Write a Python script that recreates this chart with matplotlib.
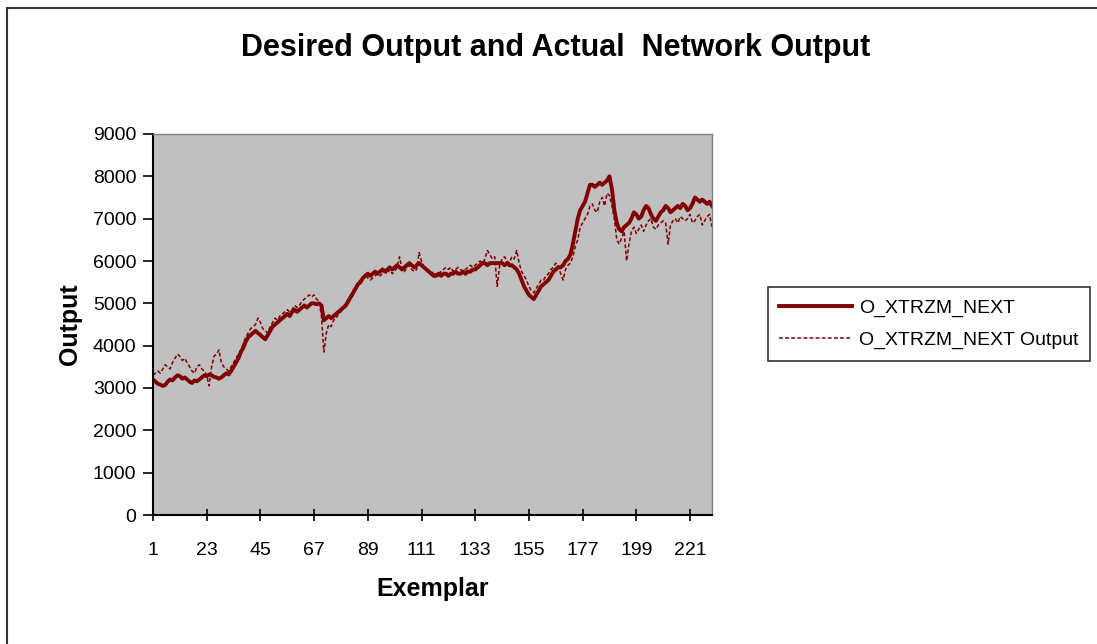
import numpy as np
import matplotlib.pyplot as plt
from matplotlib.patches import Rectangle

plt.rcParams['font.family'] = ['Liberation Sans', 'DejaVu Sans']

# desired output (O_XTRZM_NEXT), exemplars 1..230
desired = [
    3200, 3150, 3100, 3080, 3050, 3070, 3150, 3200, 3180, 3250,
    3300, 3280, 3220, 3250, 3200, 3150, 3120, 3180, 3160, 3200,
    3250, 3300, 3280, 3320, 3300, 3260, 3250, 3220, 3250, 3300,
    3350, 3320, 3400, 3500, 3600, 3700, 3850, 3950, 4100, 4200,
    4250, 4300, 4350, 4300, 4250, 4200, 4150, 4250, 4350, 4450,
    4500, 4550, 4600, 4650, 4700, 4750, 4700, 4800, 4850, 4800,
    4850, 4900, 4950, 4900, 4950, 5000, 5000, 4980, 5000, 4950,
    4600, 4650, 4700, 4650, 4700, 4750, 4800, 4850, 4900, 4950,
    5050, 5150, 5250, 5350, 5450, 5500, 5600, 5650, 5700, 5650,
    5700, 5750, 5700, 5750, 5800, 5750, 5800, 5850, 5800, 5850,
    5900, 5850, 5800, 5850, 5900, 5950, 5900, 5850, 5900, 5950,
    5900, 5850, 5800, 5750, 5700, 5650, 5650, 5700, 5650, 5700,
    5700, 5650, 5700, 5700, 5750, 5700, 5700, 5750, 5700, 5750,
    5750, 5800, 5800, 5850, 5900, 5950, 5950, 5900, 5950, 5950,
    5950, 5950, 5950, 5950, 5900, 5950, 5900, 5900, 5850, 5800,
    5700, 5550, 5400, 5300, 5200, 5150, 5100, 5200, 5300, 5400,
    5450, 5500, 5550, 5650, 5750, 5800, 5850, 5850, 5900, 6000,
    6050, 6150, 6400, 6700, 7000, 7200, 7300, 7400, 7600, 7800,
    7800, 7750, 7800, 7850, 7800, 7850, 7900, 8000, 7700, 7200,
    6900, 6750, 6700, 6800, 6850, 6900, 7000, 7150, 7100, 7000,
    7050, 7200, 7300, 7250, 7100, 7000, 6950, 7050, 7150, 7200,
    7300, 7250, 7150, 7200, 7250, 7300, 7250, 7350, 7300, 7200,
    7250, 7350, 7500, 7450, 7400, 7450, 7400, 7350, 7400, 7300,
]

# network output (O_XTRZM_NEXT Output)
network = [
    3300, 3350, 3400, 3350, 3450, 3550, 3500, 3450, 3600, 3700,
    3800, 3750, 3650, 3700, 3600, 3500, 3400, 3350, 3500, 3550,
    3450, 3400, 3300, 3050, 3500, 3750, 3800, 3900, 3600, 3500,
    3450, 3400, 3500, 3600, 3700, 3800, 3900, 4050, 4200, 4300,
    4400, 4450, 4500, 4650, 4550, 4400, 4350, 4300, 4450, 4550,
    4650, 4600, 4700, 4750, 4800, 4850, 4800, 4850, 4950, 4900,
    4950, 5050, 5100, 5150, 5200, 5150, 5200, 5100, 5050, 4700,
    3850, 4300, 4500, 4450, 4600, 4650, 4750, 4800, 4900, 5000,
    5100, 5200, 5300, 5400, 5500, 5550, 5600, 5700, 5600, 5550,
    5600, 5650, 5700, 5650, 5700, 5750, 5700, 5800, 5700, 5750,
    5850, 6100, 5800, 5750, 5850, 5900, 5800, 5750, 5800, 6200,
    6000, 5850, 5800, 5750, 5700, 5750, 5650, 5700, 5750, 5800,
    5850, 5800, 5850, 5750, 5800, 5850, 5800, 5750, 5800, 5850,
    5900, 5850, 5900, 5950, 6000, 5950, 6050, 6250, 6150, 6050,
    6100, 5400, 5900, 6050, 6100, 6000, 5950, 6100, 6050, 6250,
    5950, 5750, 5650, 5550, 5400, 5300, 5250, 5350, 5450, 5550,
    5550, 5650, 5700, 5800, 5850, 5950, 5900, 5700, 5550, 5800,
    5900, 5950, 6100, 6350, 6500, 6800, 6900, 7000, 7100, 7300,
    7350, 7200, 7150, 7400, 7500, 7300, 7600, 7550, 7300, 7000,
    6500, 6400, 6550, 6700, 6000, 6400, 6700, 6800, 6650, 6750,
    6850, 6700, 6850, 6950, 7000, 6800, 6750, 6850, 6900, 6950,
    6900, 6400, 6850, 6950, 7000, 6900, 7050, 7000, 6950, 7000,
    7100, 6900, 6950, 7050, 7100, 6850, 6950, 7050, 7100, 6800,
]

exemplar = np.arange(1, len(desired) + 1)
xtick_labels = [1, 23, 45, 67, 89, 111, 133, 155, 177, 199, 221]
ytick_values = [0, 1000, 2000, 3000, 4000, 5000, 6000, 7000, 8000, 9000]

fig = plt.figure(figsize=(10.97, 6.44), dpi=100)
# outer chart border
fig.patches.append(Rectangle((7 / 1097, -0.05), 1.2, 1.05 - 8 / 644,
                             transform=fig.transFigure, fill=False,
                             edgecolor='#333333', linewidth=1.5))

ax = fig.add_axes([153 / 1097, 1 - 515 / 644, (712 - 153) / 1097, (515 - 134) / 644])
ax.set_facecolor('#C0C0C0')

dark_red = '#800000'
ax.plot(exemplar, desired, color=dark_red, linewidth=2.8, label='O_XTRZM_NEXT')
ax.plot(exemplar, network, color=dark_red, linewidth=1.1, linestyle=(0, (2.5, 1.5)),
        label='O_XTRZM_NEXT Output')

ax.set_xlim(1, len(desired))
ax.set_ylim(0, 9000)
ax.set_xticks(xtick_labels)
ax.set_xticklabels([str(v) for v in xtick_labels], fontsize=14)
ax.set_yticks(ytick_values)
ax.set_yticklabels([str(v) for v in ytick_values], fontsize=14)
ax.tick_params(axis='x', direction='inout', length=9, width=1.2, pad=15)
ax.tick_params(axis='y', direction='out', length=7, width=1.2, pad=5)

for side in ['top', 'right']:
    ax.spines[side].set_color('#808080')
    ax.spines[side].set_linewidth(1.0)
for side in ['left', 'bottom']:
    ax.spines[side].set_color('black')
    ax.spines[side].set_linewidth(1.5)

ax.set_xlabel('Exemplar', fontsize=18, fontweight='bold', labelpad=13)
ax.set_ylabel('Output', fontsize=18, fontweight='bold', labelpad=8)

fig.text(556 / 1097, 1 - 48 / 644, 'Desired Output and Actual  Network Output',
         ha='center', va='center', fontsize=22, fontweight='bold')

leg = fig.legend(loc='center left', bbox_to_anchor=(758 / 1097, 1 - 324 / 644),
                 fontsize=14, frameon=True, fancybox=False, handlelength=3.75,
                 borderpad=0.6, labelspacing=0.75, handletextpad=0.35)
leg.get_frame().set_edgecolor('black')
leg.get_frame().set_linewidth(1.2)

fig.savefig('out.png', dpi=100)
